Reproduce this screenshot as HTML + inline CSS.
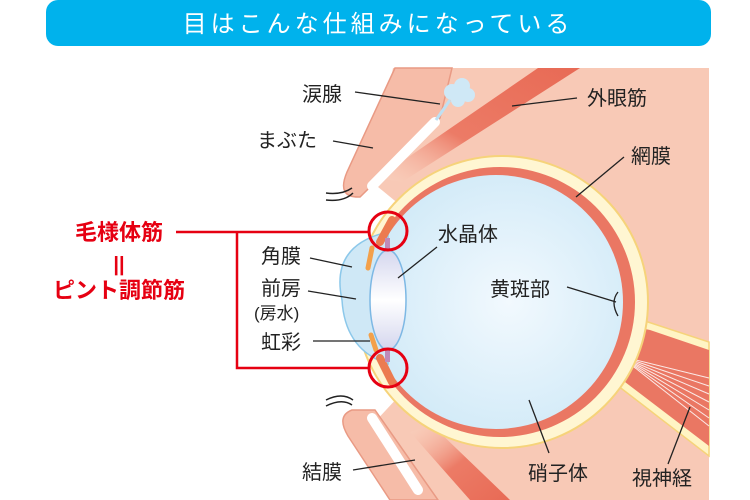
<!DOCTYPE html>
<html><head><meta charset="utf-8"><style>
html,body{margin:0;padding:0;background:#fff;}
svg{display:block;}
text{font-family:"Liberation Sans","Noto Sans CJK JP",sans-serif;}
</style></head><body>
<svg width="750" height="500" viewBox="0 0 750 500" xmlns="http://www.w3.org/2000/svg">
<defs>
<radialGradient id="vit" cx="0.55" cy="0.5" r="0.6">
<stop offset="0" stop-color="#f2f9fe"/><stop offset="1" stop-color="#cfe9f7"/></radialGradient>
<linearGradient id="lens" x1="0" y1="0" x2="0" y2="1">
<stop offset="0" stop-color="#d4d6ee"/><stop offset="0.5" stop-color="#ffffff"/><stop offset="1" stop-color="#d4d6ee"/></linearGradient>
<linearGradient id="mus" x1="0" y1="1" x2="1" y2="0">
<stop offset="0" stop-color="#fbd9c6" stop-opacity="0.3"/><stop offset="0.4" stop-color="#ec7b66"/><stop offset="1" stop-color="#e86a55"/></linearGradient>
<linearGradient id="mus2" x1="0" y1="0" x2="1" y2="1">
<stop offset="0" stop-color="#fbd9c6" stop-opacity="0.3"/><stop offset="0.5" stop-color="#ec7b66"/><stop offset="1" stop-color="#e86a55"/></linearGradient>
</defs>
<!-- banner -->
<rect x="46" y="0" width="665" height="46" rx="12" fill="#00b2ec"/>
<text x="378" y="32" font-size="24" fill="#fff" text-anchor="middle" letter-spacing="4">目はこんな仕組みになっている</text>
<!-- pink bg -->
<polygon points="393,68 709,68 709,500 408,500 372,425 400,395 400,205 372,182" fill="#f8c9b6"/>
<!-- muscles -->
<polygon points="378,178 402,182 580,68 538,68" fill="url(#mus)"/>
<polygon points="410,432 432,425 510,500 470,500" fill="url(#mus2)"/>
<!-- optic nerve -->
<polygon points="612,318 648,322 709,342 709,456 600,372" fill="#fff4c4" stroke="#f6d37a" stroke-width="1.5"/>
<polygon points="612,322 650,330 709,350 709,446 604,366" fill="#ea7763"/>
<g stroke="#fff" stroke-width="1" opacity="0.85">
<line x1="620" y1="356" x2="709" y2="378"/><line x1="620" y1="356" x2="709" y2="386"/>
<line x1="620" y1="356" x2="709" y2="394"/><line x1="620" y1="356" x2="709" y2="402"/>
<line x1="620" y1="356" x2="709" y2="410"/><line x1="620" y1="356" x2="709" y2="418"/>
<line x1="620" y1="356" x2="709" y2="426"/></g>
<!-- eyeball -->
<circle cx="502" cy="302" r="146" fill="#fff6d2" stroke="#f6d37a" stroke-width="2"/>
<circle cx="500" cy="302" r="135" fill="#ea7763"/>
<circle cx="496" cy="302" r="127" fill="url(#vit)"/>
<!-- macula -->
<path d="M618,292 Q610,302 618,316" fill="none" stroke="#222" stroke-width="1.3"/>
<!-- cornea -->
<path d="M388,232 Q330,245 342,300 Q345,350 388,364 Z" fill="#cfe8f6" stroke="#8cc8ea" stroke-width="1.5"/>
<!-- iris / ciliary -->
<path d="M372,248 L368,268" stroke="#f3a04a" stroke-width="5" stroke-linecap="round"/>
<path d="M371,335 L376,350" stroke="#f3a04a" stroke-width="5" stroke-linecap="round"/>
<path d="M380,242 L392,220" stroke="#ec7b50" stroke-width="8" stroke-linecap="round"/>
<path d="M380,358 L392,382" stroke="#ec7b50" stroke-width="8" stroke-linecap="round"/>
<rect x="385" y="238" width="5" height="12" fill="#c08ab8"/>
<rect x="385" y="350" width="5" height="12" fill="#c08ab8"/>
<!-- lens -->
<ellipse cx="388" cy="300" rx="18" ry="50" fill="url(#lens)" stroke="#7db8e4" stroke-width="1.5"/>
<!-- upper lid -->
<path d="M395,68 L347,172 Q336,198 360,197 L440,118 L452,68 Z" fill="#f6bca8" stroke="#e99a84" stroke-width="1.5"/>
<line x1="372" y1="186" x2="435" y2="122" stroke="#fff" stroke-width="10" stroke-linecap="round"/>
<line x1="436" y1="120" x2="450" y2="100" stroke="#bfe0f2" stroke-width="3"/>
<g fill="#cfe8f6"><circle cx="452" cy="92" r="8"/><circle cx="462" cy="86" r="8"/><circle cx="468" cy="95" r="7"/><circle cx="458" cy="100" r="7"/></g>
<!-- lower lid -->
<path d="M352,410 Q336,416 348,436 L390,500 L438,500 L375,410 Z" fill="#f6bca8" stroke="#e99a84" stroke-width="1.5"/>
<line x1="372" y1="418" x2="418" y2="490" stroke="#fff" stroke-width="10" stroke-linecap="round"/>
<!-- lashes -->
<g fill="none" stroke="#222" stroke-width="1.5">
<path d="M326,193 Q342,195 352,188"/><path d="M326,200 Q344,202 353,193"/>
<path d="M326,406 Q342,398 352,405"/><path d="M326,400 Q342,392 353,400"/></g>
<!-- red circles -->
<circle cx="388" cy="231" r="19" fill="none" stroke="#e60012" stroke-width="3"/>
<circle cx="388" cy="368" r="19" fill="none" stroke="#e60012" stroke-width="3"/>
<polyline points="176,232 369,232" fill="none" stroke="#e60012" stroke-width="2.5"/>
<polyline points="237,232 237,368 369,368" fill="none" stroke="#e60012" stroke-width="2.5"/>
<!-- red labels -->
<g fill="#e60012" font-weight="bold" font-size="22" text-anchor="middle">
<text x="119" y="240">毛様体筋</text>
<text x="119" y="271" font-size="20">||</text>
<text x="119" y="298">ピント調節筋</text></g>
<!-- labels -->
<g font-size="20" fill="#222">
<text x="261" y="263">角膜</text>
<text x="261" y="295">前房</text>
<text x="254" y="319" font-size="17">(房水)</text>
<text x="261" y="349">虹彩</text>
<text x="302" y="101">涙腺</text>
<text x="257" y="147">まぶた</text>
<text x="587" y="105">外眼筋</text>
<text x="631" y="163">網膜</text>
<text x="438" y="241">水晶体</text>
<text x="490" y="296">黄斑部</text>
<text x="302" y="479">結膜</text>
<text x="528" y="480">硝子体</text>
<text x="632" y="485">視神経</text></g>
<g stroke="#222" stroke-width="1.3">
<line x1="310" y1="258" x2="352" y2="267"/>
<line x1="308" y1="291" x2="356" y2="299"/>
<line x1="313" y1="341" x2="370" y2="341"/>
<line x1="355" y1="92" x2="440" y2="104"/>
<line x1="333" y1="141" x2="373" y2="148"/>
<line x1="512" y1="106" x2="577" y2="98"/>
<line x1="576" y1="197" x2="624" y2="157"/>
<line x1="398" y1="278" x2="437" y2="247"/>
<line x1="567" y1="287" x2="616" y2="302"/>
<line x1="353" y1="470" x2="415" y2="460"/>
<line x1="529" y1="400" x2="549" y2="453"/>
<line x1="668" y1="464" x2="690" y2="407"/></g>
</svg>
</body></html>
